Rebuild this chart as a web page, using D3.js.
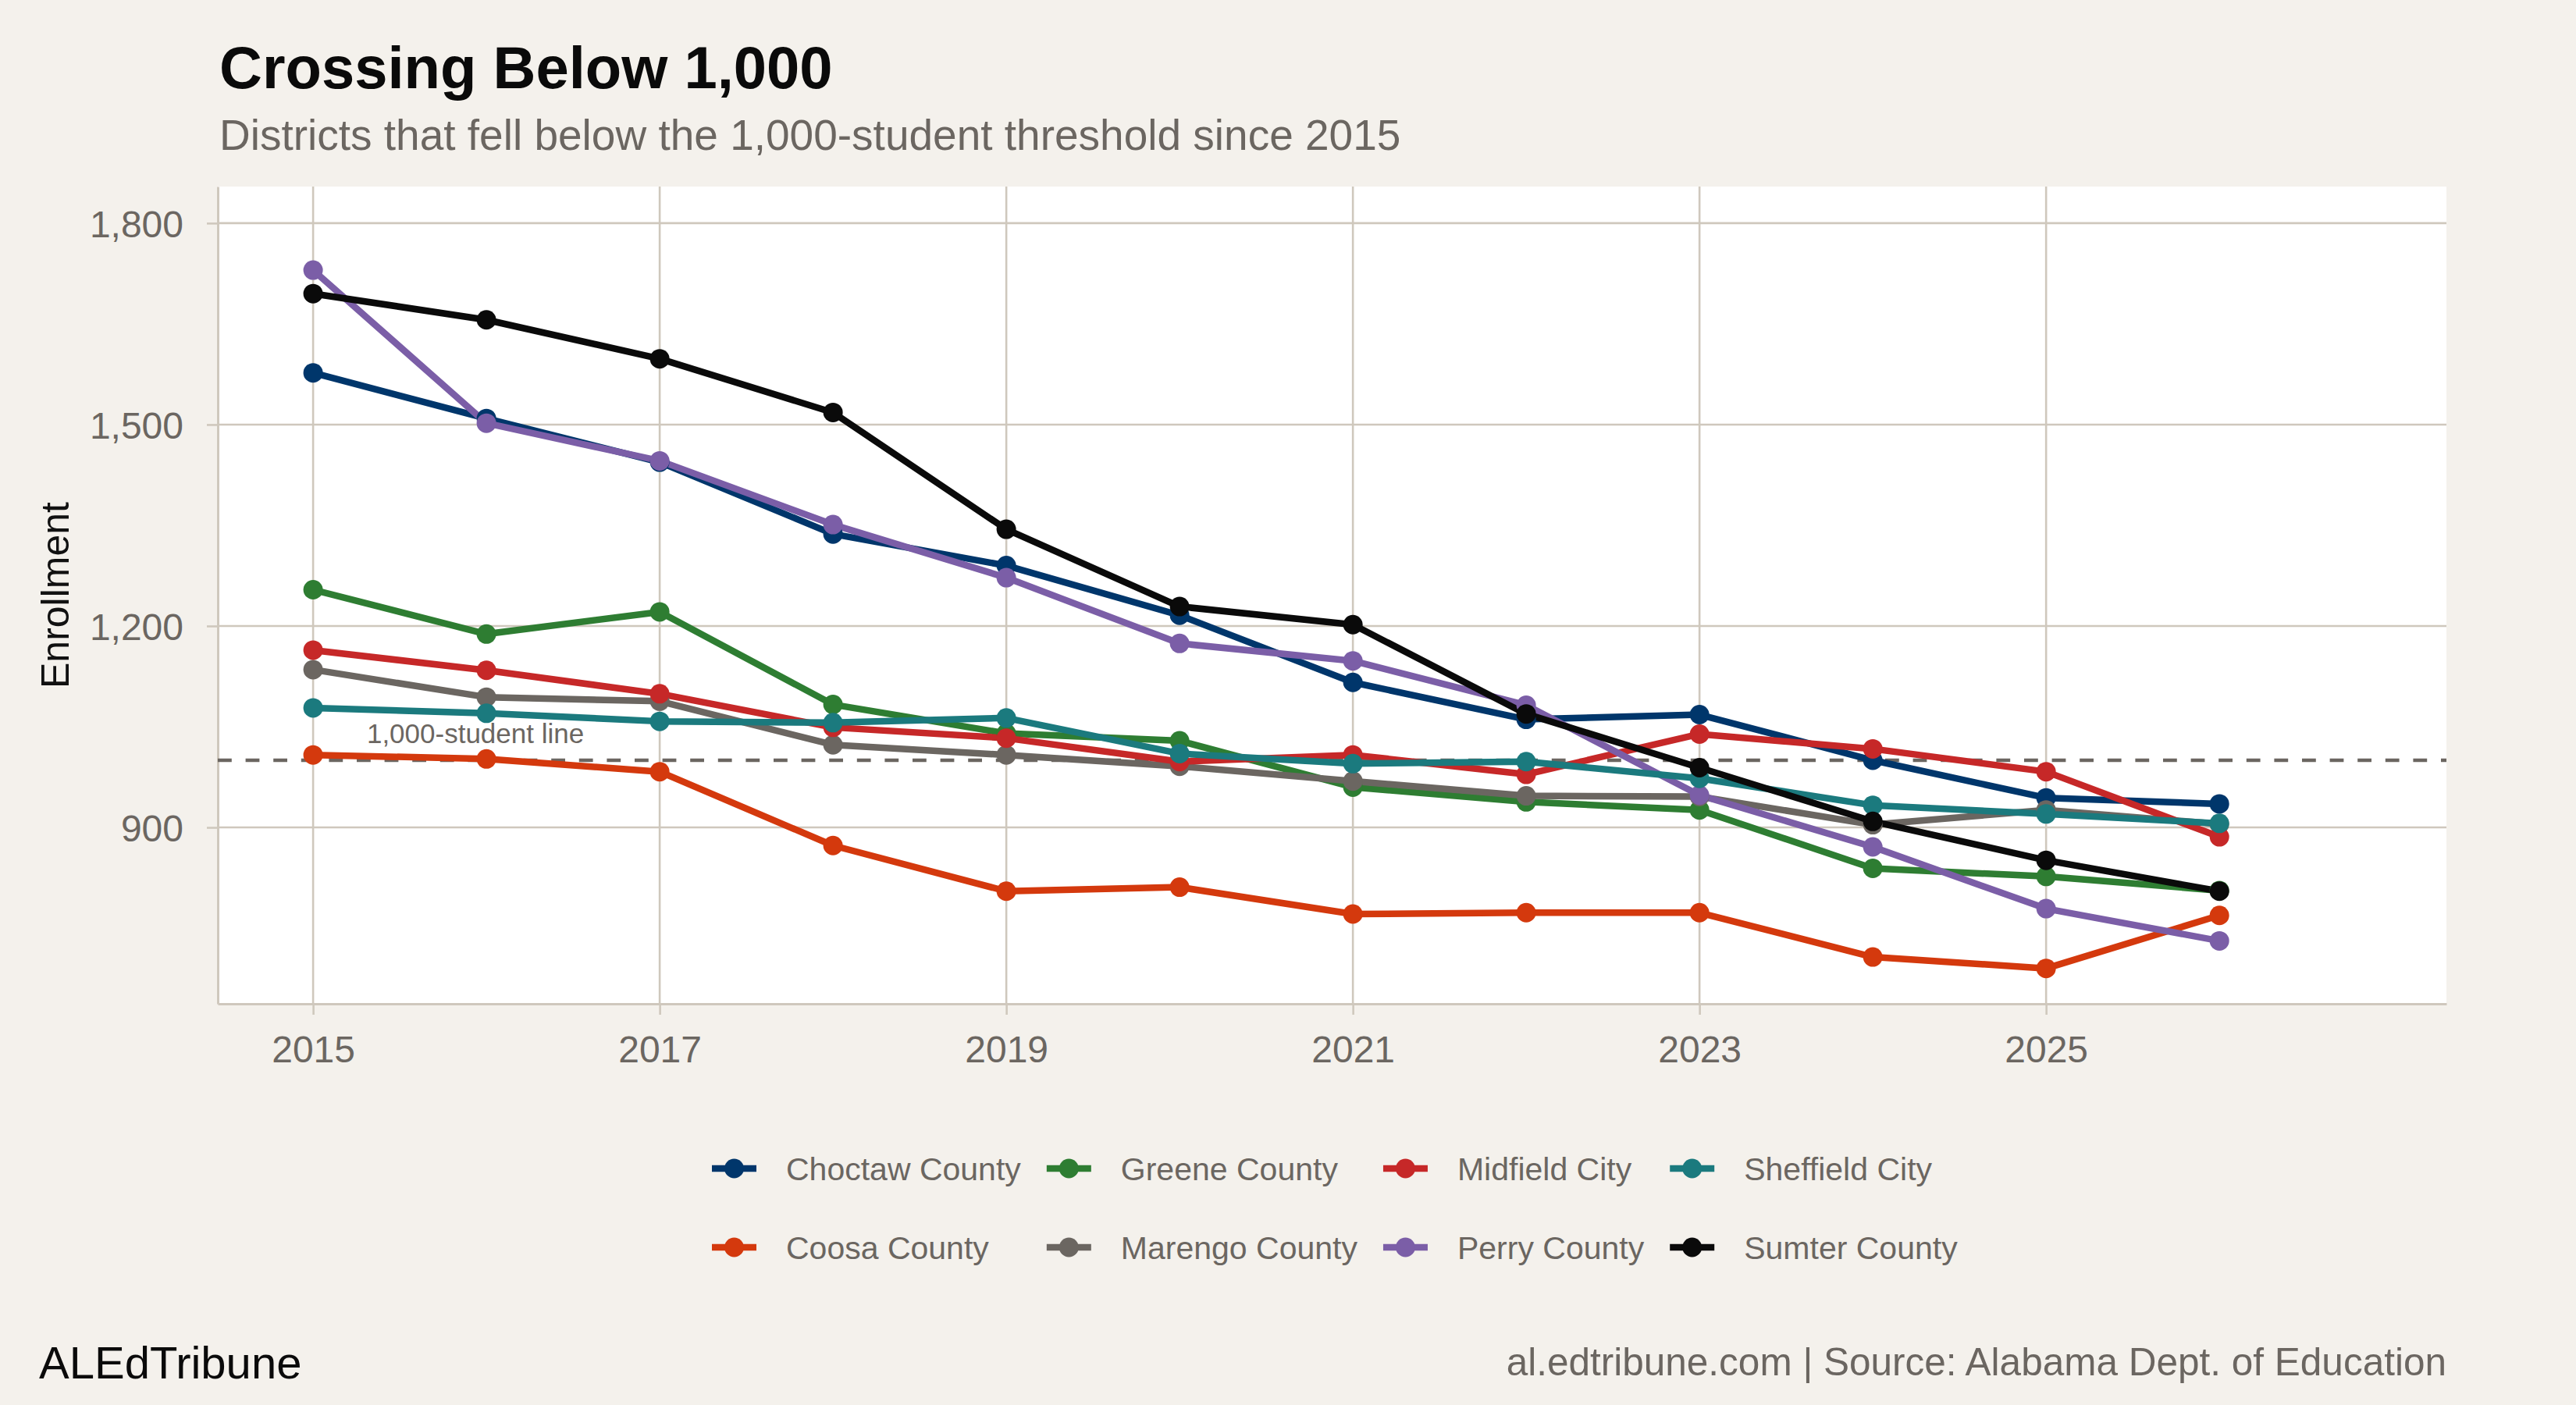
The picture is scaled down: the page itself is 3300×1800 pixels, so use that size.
<!DOCTYPE html>
<html>
<head>
<meta charset="utf-8">
<script src="https://cdn.jsdelivr.net/npm/d3@7"></script>
<style>
  body { margin: 0; background: #f4f1ec; }
  svg text { font-family: "Liberation Sans", Arial, Helvetica, sans-serif; }
</style>
</head>
<body>
<div class="chart"></div>
<script>
// Enrollment for districts that dropped below 1,000 students

var years = [2015, 2016, 2017, 2018, 2019, 2020, 2021, 2022, 2023, 2024, 2025, 2026];

var choctaw   = [1577, 1509, 1444, 1337, 1290, 1216, 1116, 1061, 1068, 1000, 944, 935];
var coosa     = [1008, 1002, 983, 873, 805, 811, 771, 773, 773, 707, 690, 769];
var greene    = [1254, 1188, 1221, 1083, 1040, 1029, 960, 938, 926, 839, 827, 806];
var marengo   = [1135, 1094, 1088, 1023, 1008, 991, 969, 947, 946, 904, 926, 905];
var midfield  = [1164, 1134, 1099, 1049, 1033, 998, 1008, 979, 1039, 1017, 983, 886];
var perry     = [1730, 1502, 1446, 1351, 1272, 1174, 1148, 1082, 948, 871, 779, 731];
var sheffield = [1078, 1070, 1058, 1056, 1063, 1010, 995, 998, 973, 933, 920, 906];
var sumter    = [1695, 1656, 1598, 1518, 1344, 1229, 1202, 1069, 989, 909, 851, 805];

var districtNames = ["Choctaw County", "Coosa County", "Greene County", "Marengo County",
                     "Midfield City", "Perry County", "Sheffield City", "Sumter County"];
var districtValues = [choctaw, coosa, greene, marengo, midfield, perry, sheffield, sumter];
var districtColors = ["#00366b", "#d4390d", "#2e7d32", "#6b6661",
                      "#c62828", "#7b5ea7", "#1b7a7e", "#0a0a0a"];

var xTicks = [2015, 2017, 2019, 2021, 2023, 2025];
var yTicks = [900, 1200, 1500, 1800];
var threshold = 1000;

var svgWidth = 3300;
var svgHeight = 1800;

var margin = { top: 239, right: 166, bottom: 514, left: 279 };
var width = svgWidth - margin.left - margin.right;
var height = svgHeight - margin.top - margin.bottom;

var gridColor = "#cfc8bd";
var textGray = "#6b6661";

var svg = d3.select(".chart")
    .append("svg")
    .attr("width", svgWidth)
    .attr("height", svgHeight);

svg.append("rect")
    .attr("width", svgWidth)
    .attr("height", svgHeight)
    .attr("fill", "#f4f1ec");

var chartGroup = svg.append("g")
    .attr("transform", `translate(${margin.left}, ${margin.top})`);

// scales
var xScale = d3.scaleLinear()
    .domain([2014.45, 2027.31])
    .range([0, width]);

var yScale = d3.scaleLinear()
    .domain([637.3, 1854.5])
    .range([height, 0]);

// panel
chartGroup.append("rect")
    .attr("width", width)
    .attr("height", height)
    .attr("fill", "#ffffff");

// gridlines
chartGroup.selectAll(".vgrid")
    .data(xTicks)
    .enter()
    .append("line")
    .attr("x1", d => xScale(d))
    .attr("x2", d => xScale(d))
    .attr("y1", 0)
    .attr("y2", height)
    .attr("stroke", gridColor)
    .attr("stroke-width", 2.6);

chartGroup.selectAll(".hgrid")
    .data(yTicks)
    .enter()
    .append("line")
    .attr("x1", 0)
    .attr("x2", width)
    .attr("y1", d => yScale(d))
    .attr("y2", d => yScale(d))
    .attr("stroke", gridColor)
    .attr("stroke-width", 2.6);

// axes
var bottomAxis = d3.axisBottom(xScale)
    .tickValues(xTicks)
    .tickFormat(d3.format("d"))
    .tickSizeInner(14)
    .tickSizeOuter(0)
    .tickPadding(27);

var leftAxis = d3.axisLeft(yScale)
    .tickValues(yTicks)
    .tickFormat(d3.format(","))
    .tickSizeInner(14)
    .tickSizeOuter(0)
    .tickPadding(30);

var xAxisG = chartGroup.append("g")
    .attr("transform", `translate(0, ${height})`)
    .call(bottomAxis);

var yAxisG = chartGroup.append("g")
    .call(leftAxis);

[xAxisG, yAxisG].forEach(function (g) {
    g.select(".domain").attr("stroke", gridColor).attr("stroke-width", 3);
    g.selectAll(".tick line").attr("stroke", gridColor).attr("stroke-width", 2.6);
    g.selectAll(".tick text")
        .attr("fill", textGray)
        .style("font-size", "48px")
        .style("font-family", "'Liberation Sans', Arial, sans-serif");
});
yAxisG.selectAll(".tick text").attr("dy", "0.36em");

// threshold line
chartGroup.append("line")
    .attr("x1", 0)
    .attr("x2", width)
    .attr("y1", yScale(threshold))
    .attr("y2", yScale(threshold))
    .attr("stroke", textGray)
    .attr("stroke-width", 4.7)
    .attr("stroke-dasharray", "17.8,17.8");

chartGroup.append("text")
    .attr("x", xScale(2015.31))
    .attr("y", yScale(threshold) - 22)
    .attr("fill", textGray)
    .style("font-size", "35px")
    .text("1,000-student line");

// lines then points
var line = d3.line()
    .x((d, i) => xScale(years[i]))
    .y(d => yScale(d));

chartGroup.selectAll(".district-line")
    .data(districtValues)
    .enter()
    .append("path")
    .attr("class", "district-line")
    .attr("d", d => line(d))
    .attr("fill", "none")
    .attr("stroke", (d, i) => districtColors[i])
    .attr("stroke-width", 8.5)
    .attr("stroke-linejoin", "round");

districtValues.forEach(function (values, k) {
    chartGroup.selectAll(".pt" + k)
        .data(values)
        .enter()
        .append("circle")
        .attr("cx", (d, i) => xScale(years[i]))
        .attr("cy", d => yScale(d))
        .attr("r", 12.5)
        .attr("fill", districtColors[k]);
});

// y axis title
svg.append("text")
    .attr("transform", `translate(${88}, ${margin.top + height / 2}) rotate(-90)`)
    .attr("text-anchor", "middle")
    .attr("fill", "#111")
    .style("font-size", "50px")
    .text("Enrollment");

// title & subtitle
svg.append("text")
    .attr("x", 281)
    .attr("y", 113)
    .attr("fill", "#0a0a0a")
    .style("font-size", "76px")
    .style("font-weight", "bold")
    .text("Crossing Below 1,000");

svg.append("text")
    .attr("x", 281)
    .attr("y", 192)
    .attr("fill", textGray)
    .style("font-size", "55px")
    .text("Districts that fell below the 1,000-student threshold since 2015");

// legend: 2 rows, filled by column
var legendRows = [1497, 1598];
var legendGroup = svg.append("g");
var keyWidth = 57;
var labelGap = 38;
var colGap = 33;

var items = legendGroup.selectAll(".legend-item")
    .data(districtNames)
    .enter()
    .append("g")
    .attr("class", "legend-item");

items.append("line")
    .attr("x1", 0).attr("x2", keyWidth)
    .attr("y1", 0).attr("y2", 0)
    .attr("stroke", (d, i) => districtColors[i])
    .attr("stroke-width", 8.5);

items.append("circle")
    .attr("cx", keyWidth / 2)
    .attr("cy", 0)
    .attr("r", 12.5)
    .attr("fill", (d, i) => districtColors[i]);

items.append("text")
    .attr("x", keyWidth + labelGap)
    .attr("y", 14.7)
    .attr("fill", textGray)
    .style("font-size", "41px")
    .text(d => d);

// column widths from the measured labels
var labelWidths = [];
items.selectAll("text").each(function () { labelWidths.push(this.getComputedTextLength()); });
var nCols = 4;
var colX = [];
var totalWidth = 0;
for (var c = 0; c < nCols; c++) {
    colX.push(totalWidth);
    var w = Math.max(labelWidths[c * 2], labelWidths[c * 2 + 1]);
    totalWidth += keyWidth + labelGap + w + (c < nCols - 1 ? colGap : 0);
}
var legendLeft = 912;

items.attr("transform", function (d, i) {
    var col = Math.floor(i / 2);
    var row = i % 2;
    return `translate(${legendLeft + colX[col]}, ${legendRows[row]})`;
});

// footer
svg.append("text")
    .attr("x", 50)
    .attr("y", 1766)
    .attr("fill", "#0a0a0a")
    .style("font-size", "58px")
    .text("ALEdTribune");

svg.append("text")
    .attr("x", margin.left + width)
    .attr("y", 1762)
    .attr("text-anchor", "end")
    .attr("fill", textGray)
    .style("font-size", "49.5px")
    .text("al.edtribune.com | Source: Alabama Dept. of Education");
</script>
</body>
</html>
